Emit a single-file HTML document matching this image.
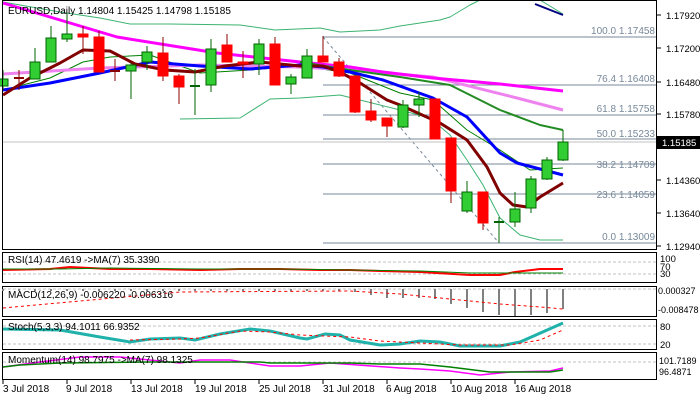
<!DOCTYPE html>
<html><head><meta charset="utf-8"><style>
body{margin:0;background:#fff;width:700px;height:400px;overflow:hidden}
svg{display:block;font-family:"Liberation Sans",sans-serif;font-size:10px}
.ax{font-size:9.5px}
</style></head><body>
<svg id="s" width="700" height="400" xmlns="http://www.w3.org/2000/svg">
<rect width="700" height="400" fill="#fff"/>
<g id="fib" stroke="#778899" stroke-width="1">
<line x1="323" y1="37" x2="656" y2="37"/><line x1="323" y1="85" x2="656" y2="85"/>
<line x1="323" y1="115" x2="656" y2="115"/><line x1="323" y1="139" x2="656" y2="139"/>
<line x1="323" y1="164" x2="656" y2="164"/><line x1="323" y1="194" x2="656" y2="194"/>
<line x1="323" y1="243" x2="656" y2="243"/>
<line x1="323" y1="37" x2="499" y2="243" stroke-dasharray="3,3"/>
</g>
<line x1="3" y1="142" x2="656" y2="142" stroke="#c0c0c0"/>
<g fill="#778899" text-anchor="end">
<text x="655" y="34">100.0 1.17458</text><text x="655" y="82">76.4 1.16408</text>
<text x="655" y="112">61.8 1.15758</text><text x="655" y="137">50.0 1.15233</text>
<text x="655" y="168">38.2 1.14709</text><text x="655" y="198">23.6 1.14059</text>
<text x="655" y="240">0.0 1.13009</text>
</g>
<g fill="none" stroke-linejoin="round">
<polyline stroke="#3cb371" points="3,2 60,12 100,18 130,24 170,24 240,25 275,30 320,28 340,32 380,30 400,26 420,23 440,20 450,17 470,5 480,0"/>
<polyline stroke="#3cb371" points="540,0 563,14"/>
<polyline stroke="#000080" stroke-width="2" points="535,4 563,15"/>
<polyline stroke="#3cb371" points="180,119 240,118 270,99 300,98 340,95 360,100 400,110 430,118 450,135 467,160 483,185 500,218 520,235 540,240 563,240"/>
<polyline stroke="#008000" points="3,90 50,78 83,62 110,57 150,55 200,73 250,70 300,66 350,73 400,93 433,100 467,130 500,150 530,170 563,168"/>
<polyline stroke="#ee82ee" stroke-width="3" points="3,74 100,68 200,65 300,67 350,70 433,77 517,98 563,110"/>
<polyline stroke="#ff00ff" stroke-width="3" points="3,3 117,37 217,53 300,62 350,67 383,72 433,78 500,84 563,91"/>
<polyline stroke="#228b22" stroke-width="2" points="300,62 350,70 400,77 450,85 500,110 540,125 563,130"/>
<polyline stroke="#0000ff" stroke-width="3" points="3,90 50,83 100,73 150,62 200,66 250,69 300,65 323,67 350,72 383,80 433,98 467,117 500,153 517,163 563,175"/>
<polyline stroke="#800000" stroke-width="3" points="3,95 30,78 60,63 83,50 110,51 135,64 165,70 195,72 225,66 260,62 300,66 323,66 340,72 360,83 387,100 400,105 440,123 467,140 487,167 500,193 513,205 527,207 540,197 563,183"/>
</g>
<g id="c"></g>
<text x="8" y="14" fill="#000">EURUSD,Daily  1.14804 1.15425 1.14798 1.15185</text>
<g fill="none" stroke="#000">
<rect x="2.5" y="0.5" width="654" height="249"/>
<rect x="2.5" y="252.5" width="654" height="30"/>
<rect x="2.5" y="286.5" width="654" height="30"/>
<rect x="2.5" y="319.5" width="654" height="30"/>
<rect x="2.5" y="352.5" width="654" height="27"/>
</g>
<g fill="#000" class="ax">
<text x="666" y="19">1.17920</text><text x="666" y="52">1.17200</text><text x="666" y="86">1.16480</text>
<text x="666" y="118">1.15780</text><text x="666" y="184">1.14360</text><text x="666" y="217">1.13640</text>
<text x="666" y="250">1.12940</text>
</g>
<g stroke="#000"><line x1="657" y1="15" x2="661" y2="15"/><line x1="657" y1="48" x2="661" y2="48"/><line x1="657" y1="82" x2="661" y2="82"/><line x1="657" y1="114" x2="661" y2="114"/><line x1="657" y1="180" x2="661" y2="180"/><line x1="657" y1="213" x2="661" y2="213"/><line x1="657" y1="246" x2="661" y2="246"/></g>
<rect x="657" y="136" width="43" height="13" fill="#000"/>
<text x="662" y="146" fill="#fff" class="ax">1.15185</text>
<g stroke="#c0c0c0" stroke-dasharray="3,2"><line x1="3" y1="262" x2="656" y2="262"/><line x1="3" y1="274" x2="656" y2="274"/>
<line x1="3" y1="289" x2="656" y2="289"/><line x1="3" y1="326" x2="656" y2="326"/><line x1="3" y1="344" x2="656" y2="344"/><line x1="3" y1="362" x2="656" y2="362"/></g>
<polyline fill="none" stroke="#ff0000" stroke-width="2" points="3,270 50,269 70,267 110,269 150,269 200,270 240,269 280,269 320,270 350,270 380,271 420,272 470,275 500,275 515,272 540,269 563,269"/>
<polyline fill="none" stroke="#008000" points="3,269 60,269 110,268 200,269 280,269 350,270 420,271 470,273 540,273 563,273"/>
<text x="8" y="263">RSI(14) 47.4619  -&gt;MA(7) 35.3390</text>
<g class="ax"><text x="660" y="262">100</text><text x="660" y="270">70</text><text x="660" y="277">30</text></g>
<g id="m" stroke="#808080" stroke-width="2"></g>
<polyline fill="none" stroke="#ff0000" stroke-dasharray="3,3" points="3,308 80,301 180,292 350,291 400,294 450,299 500,304 540,307 563,309"/>
<text x="8" y="298">MACD(12,26,9) -0.006220 -0.006316</text>
<g class="ax" font-size="9"><text x="658" y="294" font-size="9">0.000327</text><text x="658" y="313" font-size="9">-0.008478</text></g>
<polyline fill="none" stroke="#20b2aa" stroke-width="3" points="3,329 60,330 100,337 130,342 150,339 180,338 195,340 220,334 250,329 270,331 300,338 307,339 325,334 340,335 350,340 380,345 400,344 420,341 440,342 460,346 500,346 520,342 563,323"/>
<polyline fill="none" stroke="#ff0000" stroke-dasharray="3,3" points="130,340 180,339 200,338 240,331 270,332 300,335 350,337 380,341 420,343 460,345 510,345 540,340 563,330"/>
<text x="8" y="330">Stoch(5,3,3) 94.1011 66.9352</text>
<g class="ax"><text x="660" y="330">80</text><text x="660" y="348">20</text></g>
<polyline fill="none" stroke="#ff00ff" stroke-width="1.5" points="3,367 40,362 80,357 120,357 180,363 200,360 230,360 270,366 300,366 330,363 400,368 420,369 450,371 480,375 510,372 550,371 563,368"/>
<polyline fill="none" stroke="#008000" stroke-width="1.5" points="3,367 20,365 60,363 150,362 260,362 270,363 350,363 380,364 420,364 450,367 490,372 550,372 563,370"/>
<text x="8" y="363">Momentum(14) 98.7975  -&gt;MA(7) 98.1325</text>
<g class="ax"><text x="659" y="364" font-size="9">101.7189</text><text x="659" y="375" font-size="9">96.4871</text></g>
<g fill="#000"><text x="3" y="392">3 Jul 2018</text><text x="66" y="392">9 Jul 2018</text><text x="131" y="392">13 Jul 2018</text>
<text x="195" y="392">19 Jul 2018</text><text x="259" y="392">25 Jul 2018</text><text x="323" y="392">31 Jul 2018</text>
<text x="386" y="392">6 Aug 2018</text><text x="451" y="392">10 Aug 2018</text><text x="515" y="392">16 Aug 2018</text></g>
<g stroke="#000"><line x1="3" y1="380" x2="3" y2="384"/><line x1="67" y1="380" x2="67" y2="384"/><line x1="131" y1="380" x2="131" y2="384"/><line x1="195" y1="380" x2="195" y2="384"/><line x1="259" y1="380" x2="259" y2="384"/><line x1="323" y1="380" x2="323" y2="384"/><line x1="387" y1="380" x2="387" y2="384"/><line x1="451" y1="380" x2="451" y2="384"/><line x1="515" y1="380" x2="515" y2="384"/></g>
</svg>
<script>
var d=[[86,79,70,90],[78,78,70,90],[79,62,48,79],[62,38,26,62],[39,34,14,42],[34,37,26,54],[37,72,31,72],[71,71,59,81],[71,65,63,99],[62,52,46,70],[53,76,37,81],[76,87,74,104],[86,86,69,115],[85,49,39,92],[45,62,34,62],[62,64,51,78],[64,44,39,75],[44,85,37,85],[84,77,74,94],[78,56,49,78],[56,62,36,62],[62,76,58,77],[76,112,76,113],[111,120,99,122],[118,126,118,137],[127,105,100,128],[105,99,92,117],[99,139,99,139],[138,191,138,203],[211,192,181,213],[192,223,192,230],[222,222,217,243],[222,209,192,227],[208,179,176,213],[179,160,157,180],[160,142,130,161]];
var g=document.getElementById('c'),h='';
d.forEach(function(c,i){var x=3+16*i,up=c[1]<c[0]||(c[1]==c[0]&&[12,31].indexOf(i)>=0);
var sc=up?'#006400':'#8b0000',f=up?'#32cd32':'#ff0000';
h+='<line x1="'+x+'" y1="'+c[2]+'" x2="'+x+'" y2="'+c[3]+'" stroke="'+sc+'" stroke-width="1"/>';
var t=Math.min(c[0],c[1]),b=Math.max(c[0],c[1]);
if(b-t<1){h+='<line x1="'+(x-5)+'" y1="'+t+'" x2="'+(x+5)+'" y2="'+t+'" stroke="'+sc+'" stroke-width="2"/>';}
else h+='<rect x="'+(x-5)+'" y="'+t+'" width="10" height="'+(b-t)+'" fill="'+f+'" stroke="'+(up?'#006400':'#ff0000')+'"/>';});
g.innerHTML=h;
var m=[[355,292],[371,295],[387,298],[403,298],[419,298],[435,299],[451,304],[467,308],[483,312],[499,315],[515,316],[531,315],[547,313],[563,309]],mh='';
for(var i=0;i<22;i++){mh+='<line x1="'+(3+16*i)+'" y1="289" x2="'+(3+16*i)+'" y2="291"/>';}
m.forEach(function(v){mh+='<line x1="'+v[0]+'" y1="289" x2="'+v[0]+'" y2="'+v[1]+'"/>';});
document.getElementById('m').innerHTML=mh;
</script>
</body></html>
